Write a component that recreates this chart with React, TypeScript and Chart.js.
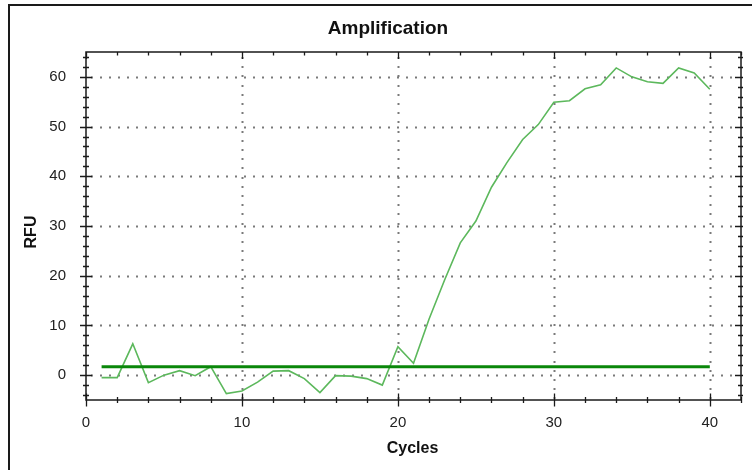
import React, { useEffect, useRef } from 'react';
import { Chart, registerables } from 'chart.js';

Chart.register(...registerables);

// ---- Data ----
const cycles = [
  1, 2, 3, 4, 5, 6, 7, 8, 9, 10, 11, 12, 13, 14, 15, 16, 17, 18, 19, 20,
  21, 22, 23, 24, 25, 26, 27, 28, 29, 30, 31, 32, 33, 34, 35, 36, 37, 38, 39, 40,
];
const rfu = [
  -0.5, -0.5, 6.3, -1.5, 0.0, 0.9, -0.1, 1.7, -3.7, -3.2,
  -1.4, 0.8, 0.9, -0.7, -3.5, -0.1, -0.2, -0.7, -2.0, 5.7,
  2.4, 11.3, 19.2, 26.6, 31.0, 37.8, 42.8, 47.4, 50.4, 54.9,
  55.2, 57.6, 58.4, 61.8, 60.0, 59.0, 58.7, 61.8, 60.8, 57.5,
];
const thresholdCycles = [1, 40];
const thresholdValue = 1.7;
const xTickValues = [0, 10, 20, 30, 40];
const yTickValues = [0, 10, 20, 30, 40, 50, 60];
const X_MIN = 0;
const X_MAX = 42;
const Y_MIN = -5;
const Y_MAX = 65;
const X_MINOR = 2;
const Y_MINOR = 2;
const TITLE = 'Amplification';
const X_TITLE = 'Cycles';
const Y_TITLE = 'RFU';

const FONT = '"Liberation Sans", Arial, sans-serif';

const decorPlugin = {
  id: 'decor',
  beforeDatasetsDraw(chart: any) {
    const { ctx, chartArea: a, scales } = chart;
    const x = scales.x;
    const y = scales.y;
    ctx.save();
    ctx.fillStyle = '#7a7a7a';
    for (const v of xTickValues) {
      if (v <= X_MIN) continue;
      const px = Math.round(x.getPixelForValue(v));
      for (let py = a.top + 5; py < a.bottom - 2; py += 9.2) {
        ctx.fillRect(px - 0.5, Math.round(py), 2, 2);
      }
    }
    for (const v of yTickValues) {
      const py = Math.round(y.getPixelForValue(v));
      for (let px = a.left + 5; px < a.right - 2; px += 9) {
        ctx.fillRect(Math.round(px), py - 0.5, 2, 2);
      }
    }
    ctx.restore();
  },
  afterDatasetsDraw(chart: any) {
    const { ctx, chartArea: a, scales } = chart;
    const x = scales.x;
    const y = scales.y;
    ctx.save();
    ctx.strokeStyle = '#1a1a1a';
    ctx.lineWidth = 1.5;
    ctx.strokeRect(a.left, a.top, a.right - a.left, a.bottom - a.top);
    ctx.lineWidth = 1.3;
    ctx.beginPath();
    for (let v = X_MIN; v <= X_MAX + 1e-9; v += X_MINOR) {
      const px = Math.round(x.getPixelForValue(v)) + 0.5;
      const major = v % 10 === 0;
      const l = major ? 6.5 : 3;
      ctx.moveTo(px, a.bottom - l);
      ctx.lineTo(px, a.bottom + l);
      ctx.moveTo(px, a.top);
      ctx.lineTo(px, a.top + (major ? 7 : 3.5));
    }
    const yStart = Math.ceil(Y_MIN / Y_MINOR) * Y_MINOR;
    for (let v = yStart; v <= Y_MAX + 1e-9; v += Y_MINOR) {
      const py = Math.round(y.getPixelForValue(v)) + 0.5;
      const major = v % 10 === 0;
      const l = major ? 6 : 3;
      ctx.moveTo(a.left - l, py);
      ctx.lineTo(a.left + l, py);
      ctx.moveTo(a.right + 2, py);
      ctx.lineTo(a.right - (major ? 6 : 3), py);
    }
    ctx.stroke();
    ctx.restore();
  },
  afterDraw(chart: any) {
    const { ctx, chartArea: a } = chart;
    ctx.save();
    // outer frame
    ctx.strokeStyle = '#1a1a1a';
    ctx.lineWidth = 2;
    ctx.strokeRect(9, 5, 900, 700);
    ctx.fillStyle = '#111';
    ctx.textAlign = 'center';
    ctx.textBaseline = 'middle';
    const cx = (a.left + a.right) / 2;
    ctx.font = `bold 19px ${FONT}`;
    ctx.fillText(TITLE, 388, 29);
    ctx.font = `bold 16px ${FONT}`;
    ctx.fillText(X_TITLE, cx - 1, 449);
    ctx.translate(32, 232);
    ctx.rotate(-Math.PI / 2);
    ctx.fillText(Y_TITLE, 0, 0);
    ctx.restore();
  },
};

export default function App() {
  const ref = useRef<HTMLCanvasElement | null>(null);
  useEffect(() => {
    if (!ref.current) return;
    const chart = new Chart(ref.current, {
      type: 'line',
      data: {
        datasets: [
          {
            label: 'Threshold',
            data: thresholdCycles.map((c) => ({ x: c, y: thresholdValue })),
            borderColor: '#0a870a',
            borderWidth: 3,
            pointRadius: 0,
            tension: 0,
          },
          {
            label: 'RFU',
            data: cycles.map((c, i) => ({ x: c, y: rfu[i] })),
            borderColor: '#5cb85c',
            borderWidth: 1.6,
            pointRadius: 0,
            tension: 0,
          },
        ],
      },
      options: {
        responsive: false,
        animation: false,
        devicePixelRatio: 1,
        layout: { padding: { top: 52, right: 11, left: 0, bottom: 0 } },
        plugins: {
          legend: { display: false },
          title: { display: false },
          tooltip: { enabled: false },
        },
        scales: {
          x: {
            type: 'linear',
            min: X_MIN,
            max: X_MAX,
            grid: { display: false },
            border: { display: false },
            afterBuildTicks: (s: any) => {
              s.ticks = xTickValues.map((v) => ({ value: v }));
            },
            afterFit: (s: any) => {
              s.height = 70;
            },
            ticks: {
              padding: 6,
              maxRotation: 0,
              color: '#222',
              font: { family: FONT, size: 15 },
            },
          },
          y: {
            type: 'linear',
            min: Y_MIN,
            max: Y_MAX,
            grid: { display: false },
            border: { display: false },
            afterBuildTicks: (s: any) => {
              s.ticks = yTickValues.map((v) => ({ value: v }));
            },
            afterFit: (s: any) => {
              s.width = 86;
            },
            ticks: {
              padding: 12,
              color: '#222',
              font: { family: FONT, size: 15 },
            },
          },
        },
      },
      plugins: [decorPlugin],
    });
    return () => chart.destroy();
  }, []);

  return (
    <div
      style={{
        position: 'fixed',
        left: 0,
        top: 0,
        width: 752,
        height: 470,
        overflow: 'hidden',
        background: '#fff',
      }}
    >
      <canvas ref={ref} width={752} height={470} style={{ display: 'block' }} />
    </div>
  );
}
